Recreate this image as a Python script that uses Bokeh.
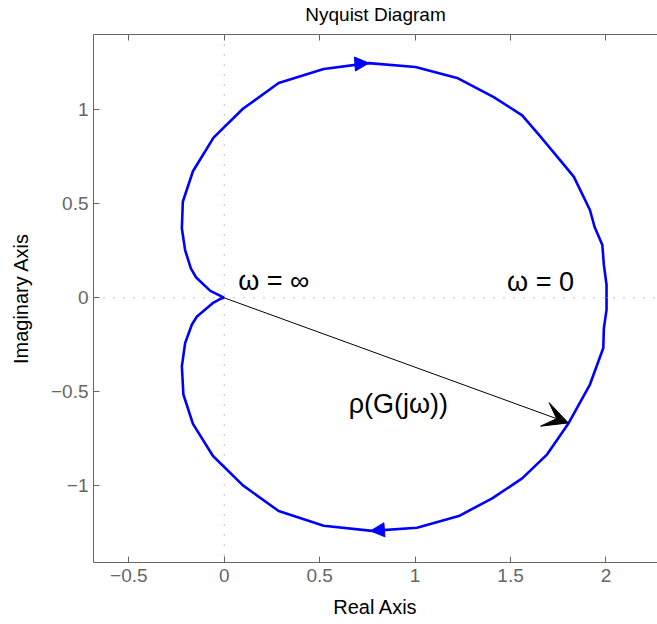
from bokeh.plotting import figure
from bokeh.models import (Arrow, NormalHead, VeeHead, Span, FixedTicker,
                          LinearAxis, Label, Range1d, CustomJSTickFormatter)
from bokeh.embed import file_html
from bokeh.resources import INLINE

# Nyquist curve, negative-frequency branch (upper half), from origin to omega=0
x_up = [0.0, -0.02, -0.073, -0.147, -0.175, -0.205, -0.222, -0.217, -0.164, -0.056,
        0.098, 0.285, 0.521, 0.757, 1.002, 1.220, 1.412, 1.561, 1.666, 1.753,
        1.832, 1.916, 1.940, 1.981, 1.989, 2.003, 2.003]
y_up = [0.0, 0.01, 0.037, 0.108, 0.157, 0.254, 0.369, 0.511, 0.673, 0.852,
        1.005, 1.142, 1.217, 1.248, 1.227, 1.169, 1.067, 0.970, 0.846, 0.740,
        0.643, 0.467, 0.378, 0.281, 0.175, 0.069, 0.0]

# positive-frequency branch (lower half), from origin to omega=0
x_lo = [0.0, -0.02, -0.056, -0.143, -0.170, -0.205, -0.222, -0.214, -0.164, -0.059,
        0.098, 0.285, 0.521, 0.775, 1.010, 1.229, 1.404, 1.561, 1.692, 1.805,
        1.916, 1.951, 1.986, 1.989, 2.003, 2.003]
y_lo = [0.0, -0.005, -0.025, -0.099, -0.143, -0.241, -0.364, -0.514, -0.670, -0.841,
        -0.997, -1.133, -1.212, -1.239, -1.222, -1.160, -1.066, -0.960, -0.832, -0.665,
        -0.461, -0.364, -0.267, -0.161, -0.064, 0.0]

# direction arrows on the curve: (start x, start y, tip x, tip y)
dir_top = (0.70, 1.244, 0.758, 1.248)
dir_bottom = (0.83, -1.234, 0.766, -1.239)

# radius vector rho(G(jw)) from origin to a curve point
rho_start = (0.0, 0.0)
rho_end = (1.803, -0.665)

x_ticks = [-0.5, 0, 0.5, 1, 1.5, 2]
x_tick_labels = ["\u22120.5", "0", "0.5", "1", "1.5", "2"]
y_ticks = [-1, -0.5, 0, 0.5, 1]
y_tick_labels = ["\u22121", "\u22120.5", "0", "0.5", "1"]

TITLE = "Nyquist Diagram"
labels = [
    ("\u03c9 = \u221e", 0.073, 0.092),
    ("\u03c9 = 0", 1.482, 0.085),
    ("\u03c1(G(j\u03c9))", 0.652, -0.562),
]

FONT = "Liberation Sans"
GRAY = "#666666"

p = figure(width=657, height=624,
           x_range=Range1d(-0.685, 2.27), y_range=Range1d(-1.407, 1.400),
           output_backend="svg", toolbar_location=None,
           min_border_left=93, min_border_right=0,
           min_border_top=32, min_border_bottom=62)

p.outline_line_color = None
p.grid.visible = False
p.background_fill_color = "white"

# bottom and left axes
xt = FixedTicker(ticks=x_ticks)
yt = FixedTicker(ticks=y_ticks)
for ax in (p.xaxis[0], p.yaxis[0]):
    ax.axis_line_color = GRAY
    ax.major_tick_line_color = GRAY
    ax.major_tick_in = 6
    ax.major_tick_out = 0
    ax.minor_tick_line_color = None
    ax.major_label_text_font = FONT
    ax.major_label_text_font_size = "19px"
    ax.major_label_text_color = GRAY
    ax.axis_label_text_font = FONT
    ax.axis_label_text_font_size = "20px"
    ax.axis_label_text_font_style = "normal"
    ax.axis_label_text_color = "black"

p.xaxis[0].ticker = xt
p.xaxis[0].major_label_overrides = {t: s for t, s in zip(x_ticks, x_tick_labels)}
p.xaxis[0].axis_label = "Real Axis"
p.xaxis[0].major_label_standoff = 6
p.xaxis[0].axis_label_standoff = 11

p.yaxis[0].ticker = yt
p.yaxis[0].major_label_overrides = {t: s for t, s in zip(y_ticks, y_tick_labels)}
p.yaxis[0].axis_label = "Imaginary Axis"
p.yaxis[0].major_label_standoff = 5
p.yaxis[0].axis_label_standoff = 16

# top axis: box edge with inward ticks, carrying the chart title
top = LinearAxis(ticker=FixedTicker(ticks=x_ticks), axis_line_color=GRAY,
                 major_tick_line_color=GRAY, major_tick_in=6, major_tick_out=0,
                 minor_tick_line_color=None,
                 formatter=CustomJSTickFormatter(code="return ''"),
                 major_label_standoff=0,
                 axis_label=TITLE, axis_label_text_font=FONT,
                 axis_label_text_font_size="19px",
                 axis_label_text_font_style="normal",
                 axis_label_text_color="black", axis_label_standoff=10)
p.add_layout(top, "above")

# dotted zero lines
p.add_layout(Span(location=0, dimension="width", line_color="#888888",
                  line_dash="1 9", line_width=1, level="underlay"))
p.add_layout(Span(location=0, dimension="height", line_color="#888888",
                  line_dash="1 9", line_width=1, level="underlay"))

# Nyquist curve
p.line(x_up, y_up, line_color="#0000ff", line_width=2.6)
p.line(x_lo, y_lo, line_color="#0000ff", line_width=2.6)

for (xs, ys, xe, ye) in (dir_top, dir_bottom):
    p.add_layout(Arrow(end=NormalHead(size=14, fill_color="#0000ff",
                                      line_color="#0000ff", line_width=1),
                       x_start=xs, y_start=ys, x_end=xe, y_end=ye,
                       line_alpha=0))

# radius arrow
p.add_layout(Arrow(end=VeeHead(size=25, fill_color="black", line_color="black",
                               line_width=1),
                   x_start=rho_start[0], y_start=rho_start[1],
                   x_end=rho_end[0], y_end=rho_end[1],
                   line_color="black", line_width=1))

for txt, lx, ly in labels:
    p.add_layout(Label(x=lx, y=ly, text=txt, text_font=FONT,
                       text_font_size="27px", text_color="black",
                       text_baseline="alphabetic", text_align="left"))

open("out.html", "w").write(file_html(p, INLINE))
